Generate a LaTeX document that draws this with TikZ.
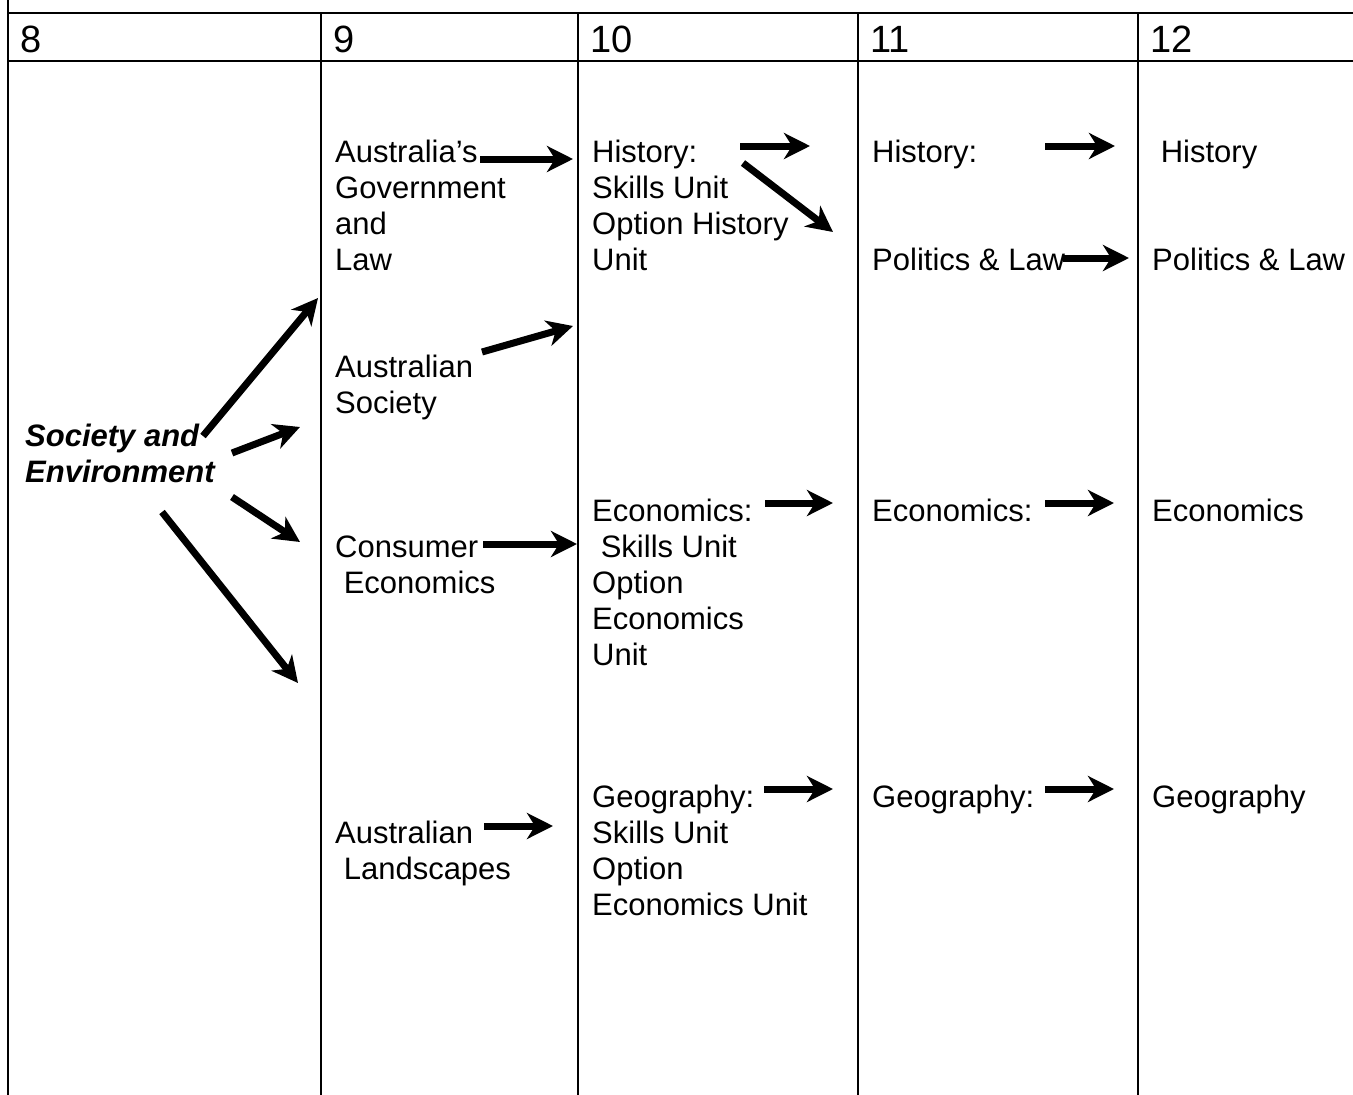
\documentclass[tikz,border=0pt]{standalone}
\usepackage{fontspec}
\setmainfont{Liberation Sans}
\usetikzlibrary{arrows.meta}

\newcommand{\lines}[1]{\begin{tabular}[t]{@{}l@{}}#1\end{tabular}}

\begin{document}
\begin{tikzpicture} [x=1pt, y=-1pt,
                    rule/.style={line width=2pt},
                    yearhead/.style={anchor=base west, inner sep=0pt, font=\fontsize{38}{42}\selectfont},
                    subj/.style={anchor=base west, inner sep=0pt, font=\fontsize{31}{36}\selectfont},
                    arr/.style={line width=7pt, -{Stealth[length=26pt,width=26pt,inset=8pt]}}]

\useasboundingbox (0,0) rectangle (1353,1095);

% table rules
\draw[rule] (8,0) -- (8,1095);
\draw[rule] (8,13) -- (1353,13);
\draw[rule] (8,61) -- (1353,61);
\foreach \x in {321,578,858,1138}
    \draw[rule] (\x,13) -- (\x,1095);

% year headings
\node[yearhead] (y8)  at (20,52)   {8};
\node[yearhead] (y9)  at (333,52)  {9};
\node[yearhead] (y10) at (590,52)  {10};
\node[yearhead] (y11) at (870,52)  {11};
\node[yearhead] (y12) at (1150,52) {12};

% year 8
\node[subj, font=\fontsize{31}{36}\selectfont\bfseries\itshape] (sae) at (25,446)
    {\lines{Society and\\Environment}};

% year 9
\node[subj] (gov)  at (335,162) {\lines{Australia's\\Government\\and\\Law}};
\node[subj] (soc)  at (335,377) {\lines{Australian\\Society}};
\node[subj] (cons) at (335,557) {\lines{Consumer\\\ Economics}};
\node[subj] (land) at (335,843) {\lines{Australian\\\ Landscapes}};

% year 10
\node[subj] (hist10) at (592,162) {\lines{History:\\Skills Unit\\Option History\\Unit}};
\node[subj] (econ10) at (592,521) {\lines{Economics:\\\ Skills Unit\\Option\\Economics\\Unit}};
\node[subj] (geog10) at (592,807) {\lines{Geography:\\Skills Unit\\Option\\Economics Unit}};

% year 11
\node[subj] (hist11) at (872,162) {History:};
\node[subj] (pol11)  at (872,270) {Politics \& Law};
\node[subj] (econ11) at (872,521) {Economics:};
\node[subj] (geog11) at (872,807) {Geography:};

% year 12
\node[subj] (hist12) at (1152,162) {\ History};
\node[subj] (pol12)  at (1152,270) {Politics \& Law};
\node[subj] (econ12) at (1152,521) {Economics};
\node[subj] (geog12) at (1152,807) {Geography};

% arrow ends
\coordinate (sae-a)  at (203,436);  \coordinate (sae-a') at (318,298);
\coordinate (sae-b)  at (232,453);  \coordinate (sae-b') at (300,427);
\coordinate (sae-c)  at (232,497);  \coordinate (sae-c') at (300,542);
\coordinate (sae-d)  at (162,512);  \coordinate (sae-d') at (298,683);
\coordinate (gov-a)  at (480,159);  \coordinate (gov-a') at (573,159);
\coordinate (soc-a)  at (482,352);  \coordinate (soc-a') at (573,326);
\coordinate (cons-a) at (483,544);  \coordinate (cons-a') at (577,544);
\coordinate (land-a) at (484,826);  \coordinate (land-a') at (553,826);
\coordinate (hist10-a) at (740,146); \coordinate (hist10-a') at (810,146);
\coordinate (hist10-b) at (743,163); \coordinate (hist10-b') at (833,232);
\coordinate (econ10-a) at (765,503); \coordinate (econ10-a') at (833,503);
\coordinate (geog10-a) at (764,789); \coordinate (geog10-a') at (833,789);
\coordinate (hist11-a) at (1045,146); \coordinate (hist11-a') at (1115,146);
\coordinate (pol11-a)  at (1063,258); \coordinate (pol11-a')  at (1129,258);
\coordinate (econ11-a) at (1045,503); \coordinate (econ11-a') at (1114,503);
\coordinate (geog11-a) at (1045,789); \coordinate (geog11-a') at (1114,789);

\draw[arr] (sae-a) -- (sae-a');
\draw[arr] (sae-b) -- (sae-b');
\draw[arr] (sae-c) -- (sae-c');
\draw[arr] (sae-d) -- (sae-d');
\draw[arr] (gov-a) -- (gov-a');
\draw[arr] (soc-a) -- (soc-a');
\draw[arr] (cons-a) -- (cons-a');
\draw[arr] (land-a) -- (land-a');
\draw[arr] (hist10-a) -- (hist10-a');
\draw[arr] (hist10-b) -- (hist10-b');
\draw[arr] (econ10-a) -- (econ10-a');
\draw[arr] (geog10-a) -- (geog10-a');
\draw[arr] (hist11-a) -- (hist11-a');
\draw[arr] (pol11-a) -- (pol11-a');
\draw[arr] (econ11-a) -- (econ11-a');
\draw[arr] (geog11-a) -- (geog11-a');
\end{tikzpicture}
\end{document}
